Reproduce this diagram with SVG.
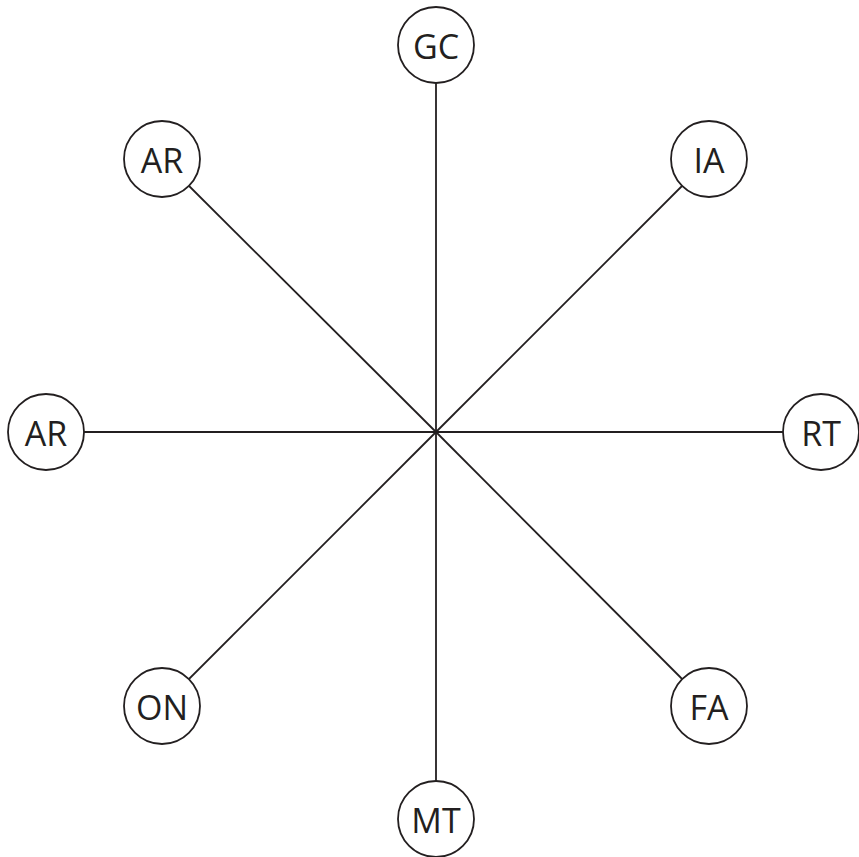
<svg xmlns="http://www.w3.org/2000/svg" width="859" height="857" viewBox="0 0 859 857">
<style>
.n circle{fill:#fff;stroke:#231f20;stroke-width:1.8}
.n text{font-family:"Open Sans","Noto Sans",sans-serif;font-size:34px;fill:#231f20;text-anchor:middle;dominant-baseline:central}
#edges line{stroke:#231f20;stroke-width:1.8}
</style>
<rect width="859" height="857" fill="#fff"/>
<g id="edges">
<line x1="436" y1="432" x2="436" y2="45"/>
<line x1="436" y1="432" x2="436" y2="819"/>
<line x1="436" y1="432" x2="46" y2="432"/>
<line x1="436" y1="432" x2="821" y2="432"/>
<line x1="436" y1="432" x2="162" y2="159"/>
<line x1="436" y1="432" x2="709" y2="159"/>
<line x1="436" y1="432" x2="162" y2="706"/>
<line x1="436" y1="432" x2="709" y2="706"/>
</g>
<g id="GC" class="n"><circle cx="436" cy="45" r="38"/><text x="436" y="46">GC</text></g>
<g id="IA" class="n"><circle cx="709" cy="159" r="38"/><text x="709" y="160">IA</text></g>
<g id="RT" class="n"><circle cx="821" cy="432" r="38"/><text x="821" y="433">RT</text></g>
<g id="FA" class="n"><circle cx="709" cy="706" r="38"/><text x="709" y="707">FA</text></g>
<g id="MT" class="n"><circle cx="436" cy="819" r="38"/><text x="436" y="820">MT</text></g>
<g id="ON" class="n"><circle cx="162" cy="706" r="38"/><text x="162" y="707">ON</text></g>
<g id="AR2" class="n"><circle cx="46" cy="432" r="38"/><text x="46" y="433">AR</text></g>
<g id="AR1" class="n"><circle cx="162" cy="159" r="38"/><text x="162" y="160">AR</text></g>
</svg>
